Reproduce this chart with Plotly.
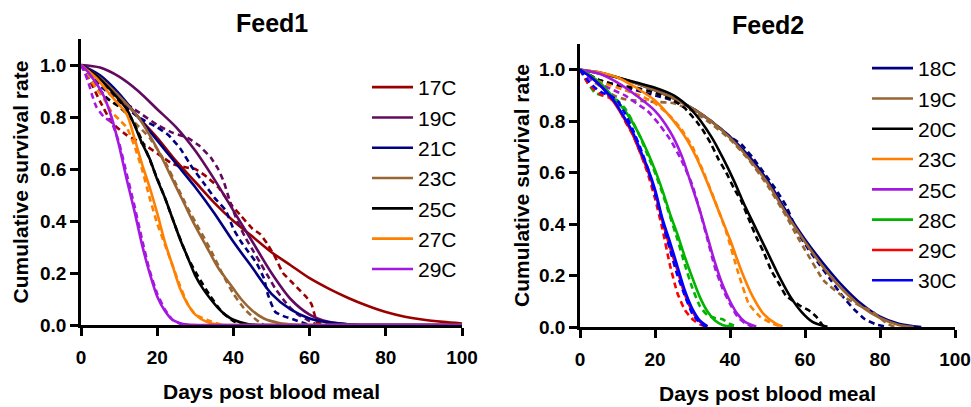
import plotly.graph_objects as go

# ---------------- Feed1 data ----------------
f1_labels = ["17C", "19C", "21C", "23C", "25C", "27C", "29C"]
f1_colors = ["#9B0000", "#620A5E", "#000080", "#996633", "#000000", "#FF8000", "#A418E0"]

# fitted (solid) curves
f1_17_fit_t = [0, 5, 10, 15, 20, 25, 30, 35, 40, 45, 50, 55, 60, 65, 70, 75, 80, 85, 90, 95, 100]
f1_17_fit_s = [1, 0.95, 0.88, 0.8, 0.72, 0.63, 0.55, 0.47, 0.4, 0.34, 0.28, 0.23, 0.18, 0.14, 0.105, 0.075, 0.05, 0.032, 0.02, 0.012, 0.006]
f1_19_fit_t = [0, 5, 10, 15, 20, 25, 30, 35, 40, 45, 50, 55, 60, 65, 70, 80, 100]
f1_19_fit_s = [1, 0.99, 0.955, 0.9, 0.83, 0.76, 0.67, 0.56, 0.44, 0.32, 0.2, 0.1, 0.04, 0.012, 0.003, 0.0005, 0]
f1_21_fit_t = [0, 5, 10, 15, 20, 25, 30, 35, 40, 45, 50, 55, 60, 65, 70, 80, 100]
f1_21_fit_s = [1, 0.96, 0.89, 0.8, 0.71, 0.62, 0.53, 0.43, 0.32, 0.22, 0.12, 0.06, 0.025, 0.01, 0.003, 0.0005, 0]
f1_23_fit_t = [0, 5, 10, 15, 18, 21, 24, 27, 30, 33, 36, 39, 42, 45, 48, 52, 56, 65, 100]
f1_23_fit_s = [1, 0.95, 0.88, 0.8, 0.73, 0.65, 0.56, 0.47, 0.38, 0.3, 0.22, 0.16, 0.1, 0.055, 0.025, 0.008, 0.002, 0, 0]
f1_25_fit_t = [0, 4, 8, 12, 14, 16, 18, 20, 22, 24, 26, 28, 30, 32, 34, 36, 38, 40, 44, 50, 100]
f1_25_fit_s = [1, 0.96, 0.9, 0.83, 0.77, 0.7, 0.64, 0.56, 0.49, 0.41, 0.33, 0.26, 0.19, 0.14, 0.1, 0.065, 0.038, 0.02, 0.003, 0, 0]
f1_27_fit_t = [0, 4, 8, 12, 14, 16, 18, 20, 22, 24, 26, 28, 30, 33, 36, 42, 100]
f1_27_fit_s = [1, 0.95, 0.88, 0.81, 0.72, 0.62, 0.53, 0.43, 0.32, 0.23, 0.14, 0.08, 0.04, 0.012, 0.002, 0, 0]
f1_29_fit_t = [0, 2, 4, 6, 8, 10, 12, 14, 16, 18, 20, 22, 24, 26, 28, 34, 100]
f1_29_fit_s = [1, 0.97, 0.93, 0.88, 0.8, 0.69, 0.56, 0.44, 0.31, 0.2, 0.11, 0.055, 0.02, 0.007, 0.002, 0, 0]

# observed (dashed) curves
f1_17_obs_t = [0, 2, 5, 8, 12, 16, 20, 24, 28, 30, 33, 36, 39, 42, 45, 47, 49, 51, 53, 55, 57, 59, 60.5, 61.5, 62, 66, 70]
f1_17_obs_s = [1, 0.95, 0.86, 0.78, 0.73, 0.7, 0.66, 0.62, 0.605, 0.6, 0.57, 0.53, 0.47, 0.42, 0.37, 0.35, 0.31, 0.26, 0.2, 0.17, 0.14, 0.11, 0.08, 0.03, 0.01, 0.004, 0]
f1_19_obs_t = [0, 5, 10, 15, 20, 24, 28, 31, 34, 36, 37.5, 39, 41, 43, 45, 47, 49, 51, 53, 55, 57, 60, 62]
f1_19_obs_s = [1, 0.93, 0.87, 0.82, 0.77, 0.74, 0.72, 0.69, 0.645, 0.6, 0.55, 0.48, 0.4, 0.34, 0.29, 0.24, 0.19, 0.14, 0.1, 0.065, 0.04, 0.015, 0]
f1_21_obs_t = [0, 5, 10, 15, 20, 23, 26, 29, 32, 35, 38, 40, 42, 44, 46, 48, 49, 50, 51, 53, 56, 60]
f1_21_obs_s = [1, 0.92, 0.86, 0.8, 0.76, 0.73, 0.68, 0.61, 0.55, 0.49, 0.44, 0.37, 0.32, 0.28, 0.24, 0.18, 0.12, 0.08, 0.05, 0.035, 0.02, 0]
f1_23_obs_t = [0, 3, 6, 10, 14, 18, 22, 25, 28, 31, 34, 37, 40, 43, 46, 48]
f1_23_obs_s = [1, 0.93, 0.88, 0.84, 0.78, 0.72, 0.63, 0.54, 0.45, 0.37, 0.29, 0.2, 0.12, 0.06, 0.02, 0]
f1_25_obs_t = [0, 2, 4, 7, 10, 13, 16, 19, 22, 25, 28, 31, 34, 37, 40, 43]
f1_25_obs_s = [1, 0.96, 0.92, 0.87, 0.84, 0.8, 0.71, 0.6, 0.49, 0.37, 0.26, 0.18, 0.11, 0.05, 0.015, 0]
f1_27_obs_t = [0, 2, 4, 6, 8, 10, 12, 14, 16, 18, 20, 22, 24, 26, 28, 30, 33, 37]
f1_27_obs_s = [1, 0.96, 0.91, 0.87, 0.82, 0.79, 0.76, 0.69, 0.6, 0.49, 0.39, 0.31, 0.23, 0.15, 0.08, 0.04, 0.02, 0]
f1_29_obs_t = [0, 1, 2, 3, 4, 6, 8, 10, 12, 14, 16, 18, 20, 22, 24, 26, 28]
f1_29_obs_s = [1, 0.97, 0.93, 0.88, 0.84, 0.8, 0.78, 0.7, 0.58, 0.46, 0.33, 0.21, 0.12, 0.06, 0.02, 0.005, 0]

# ---------------- Feed2 data ----------------
f2_labels = ["18C", "19C", "20C", "23C", "25C", "28C", "29C", "30C"]
f2_colors = ["#000080", "#996633", "#000000", "#FF8000", "#A418E0", "#00B400", "#FF0000", "#0000FF"]

f2_18_fit_t = [0, 10, 20, 30, 35, 40, 45, 50, 55, 60, 65, 70, 75, 80, 85, 91]
f2_18_fit_s = [1, 0.97, 0.92, 0.85, 0.8, 0.74, 0.665, 0.57, 0.45, 0.34, 0.245, 0.16, 0.09, 0.04, 0.013, 0]
f2_19_fit_t = [0, 10, 20, 30, 35, 40, 45, 50, 55, 60, 65, 70, 75, 80, 85, 89]
f2_19_fit_s = [1, 0.97, 0.92, 0.85, 0.8, 0.735, 0.655, 0.56, 0.44, 0.33, 0.23, 0.145, 0.08, 0.035, 0.008, 0]
f2_20_fit_t = [0, 5, 10, 15, 20, 25, 30, 35, 38, 41, 44, 47, 50, 53, 56, 59, 62, 66]
f2_20_fit_s = [1, 0.99, 0.97, 0.95, 0.93, 0.9, 0.84, 0.74, 0.66, 0.57, 0.47, 0.38, 0.29, 0.2, 0.12, 0.06, 0.02, 0.001]
f2_23_fit_t = [0, 5, 10, 15, 20, 25, 28, 31, 34, 37, 40, 43, 46, 49, 52, 54]
f2_23_fit_s = [1, 0.99, 0.97, 0.93, 0.88, 0.8, 0.74, 0.66, 0.56, 0.45, 0.34, 0.22, 0.12, 0.05, 0.015, 0.002]
f2_25_fit_t = [0, 5, 10, 15, 20, 24, 27, 30, 32, 34, 36, 38, 40, 42, 44, 47]
f2_25_fit_s = [1, 0.985, 0.95, 0.9, 0.84, 0.76, 0.67, 0.54, 0.45, 0.35, 0.25, 0.165, 0.1, 0.05, 0.02, 0.002]
f2_28_fit_t = [0, 3, 6, 9, 12, 15, 18, 20, 22, 24, 26, 28, 30, 32, 34, 36, 38, 41]
f2_28_fit_s = [1, 0.975, 0.94, 0.89, 0.84, 0.77, 0.68, 0.61, 0.53, 0.44, 0.36, 0.27, 0.19, 0.115, 0.06, 0.025, 0.008, 0.001]
f2_29_fit_t = [0, 3, 6, 9, 12, 14, 16, 18, 20, 22, 24, 26, 28, 30, 32, 34]
f2_29_fit_s = [1, 0.97, 0.93, 0.875, 0.805, 0.75, 0.68, 0.61, 0.525, 0.41, 0.31, 0.22, 0.125, 0.06, 0.02, 0.002]
f2_30_fit_t = [0, 3, 6, 9, 12, 14, 16, 18, 20, 22, 24, 26, 28, 30, 32, 34]
f2_30_fit_s = [1, 0.97, 0.93, 0.88, 0.81, 0.76, 0.69, 0.62, 0.535, 0.42, 0.33, 0.235, 0.14, 0.07, 0.025, 0.003]

f2_18_obs_t = [0, 5, 10, 15, 20, 25, 30, 35, 40, 43, 46, 49, 52, 55, 58, 61, 64, 67, 70, 73, 76, 79, 82]
f2_18_obs_s = [1, 0.96, 0.94, 0.92, 0.9, 0.88, 0.85, 0.8, 0.74, 0.71, 0.66, 0.6, 0.54, 0.47, 0.37, 0.3, 0.24, 0.18, 0.12, 0.07, 0.03, 0.01, 0]
f2_19_obs_t = [0, 3, 6, 9, 12, 15, 20, 25, 30, 35, 40, 45, 50, 55, 58, 60, 65, 70, 75, 78, 80, 82, 84]
f2_19_obs_s = [1, 0.96, 0.93, 0.9, 0.885, 0.88, 0.875, 0.87, 0.84, 0.79, 0.73, 0.65, 0.55, 0.43, 0.35, 0.3, 0.18, 0.12, 0.08, 0.06, 0.035, 0.012, 0]
f2_20_obs_t = [0, 5, 10, 15, 20, 25, 28, 31, 33, 35, 37, 39, 41, 43, 45, 47, 49, 51, 53, 55, 57, 59, 61, 63, 64, 65]
f2_20_obs_s = [1, 0.96, 0.94, 0.93, 0.91, 0.88, 0.85, 0.8, 0.76, 0.71, 0.65, 0.6, 0.54, 0.49, 0.42, 0.35, 0.29, 0.22, 0.17, 0.12, 0.1, 0.08, 0.065, 0.04, 0.02, 0]
f2_23_obs_t = [0, 4, 8, 12, 16, 20, 24, 27, 30, 33, 36, 39, 42, 45, 48, 51, 54]
f2_23_obs_s = [1, 0.96, 0.94, 0.92, 0.9, 0.87, 0.82, 0.77, 0.7, 0.6, 0.49, 0.37, 0.22, 0.09, 0.04, 0.015, 0]
f2_25_obs_t = [0, 3, 6, 9, 12, 15, 18, 21, 24, 27, 30, 32, 34, 36, 38, 40, 42, 44, 46]
f2_25_obs_s = [1, 0.96, 0.94, 0.92, 0.9, 0.87, 0.84, 0.79, 0.73, 0.65, 0.55, 0.45, 0.34, 0.23, 0.15, 0.09, 0.04, 0.015, 0]
f2_28_obs_t = [0, 2, 4, 6, 8, 10, 12, 14, 16, 18, 20, 22, 24, 26, 28, 30, 32, 34, 36, 38, 40, 42]
f2_28_obs_s = [1, 0.95, 0.91, 0.9, 0.9, 0.88, 0.85, 0.8, 0.74, 0.67, 0.6, 0.52, 0.43, 0.34, 0.24, 0.15, 0.08, 0.045, 0.035, 0.03, 0.012, 0]
f2_29_obs_t = [0, 2, 4, 6, 8, 10, 12, 14, 16, 18, 20, 22, 24, 26, 28, 30, 32, 34]
f2_29_obs_s = [1, 0.95, 0.92, 0.9, 0.89, 0.86, 0.8, 0.75, 0.68, 0.6, 0.5, 0.38, 0.24, 0.13, 0.065, 0.03, 0.01, 0]
f2_30_obs_t = [0, 2, 4, 6, 8, 10, 12, 14, 16, 18, 20, 22, 24, 26, 28, 30, 32, 34]
f2_30_obs_s = [1, 0.96, 0.93, 0.91, 0.9, 0.88, 0.83, 0.77, 0.7, 0.62, 0.52, 0.41, 0.3, 0.2, 0.12, 0.05, 0.015, 0]

x_ticks = [0, 20, 40, 60, 80, 100]
y_ticks = [0.0, 0.2, 0.4, 0.6, 0.8, 1.0]
panel_titles = ["Feed1", "Feed2"]
x_title = "Days post blood meal"
y_title = "Cumulative survival rate"

# ---------------- figure ----------------
FONT = "Liberation Sans, Arial, sans-serif"
# the figure is slightly wider than the 971 px window so that the right-most
# tick label is not treated as overflowing the graph div; the page hides overflow
W, H = 995, 407

f1_fits = [(f1_17_fit_t, f1_17_fit_s), (f1_19_fit_t, f1_19_fit_s), (f1_21_fit_t, f1_21_fit_s),
           (f1_23_fit_t, f1_23_fit_s), (f1_25_fit_t, f1_25_fit_s), (f1_27_fit_t, f1_27_fit_s),
           (f1_29_fit_t, f1_29_fit_s)]
f1_obs = [(f1_17_obs_t, f1_17_obs_s), (f1_19_obs_t, f1_19_obs_s), (f1_21_obs_t, f1_21_obs_s),
          (f1_23_obs_t, f1_23_obs_s), (f1_25_obs_t, f1_25_obs_s), (f1_27_obs_t, f1_27_obs_s),
          (f1_29_obs_t, f1_29_obs_s)]
f2_fits = [(f2_18_fit_t, f2_18_fit_s), (f2_19_fit_t, f2_19_fit_s), (f2_20_fit_t, f2_20_fit_s),
           (f2_23_fit_t, f2_23_fit_s), (f2_25_fit_t, f2_25_fit_s), (f2_28_fit_t, f2_28_fit_s),
           (f2_29_fit_t, f2_29_fit_s), (f2_30_fit_t, f2_30_fit_s)]
f2_obs = [(f2_18_obs_t, f2_18_obs_s), (f2_19_obs_t, f2_19_obs_s), (f2_20_obs_t, f2_20_obs_s),
          (f2_23_obs_t, f2_23_obs_s), (f2_25_obs_t, f2_25_obs_s), (f2_28_obs_t, f2_28_obs_s),
          (f2_29_obs_t, f2_29_obs_s), (f2_30_obs_t, f2_30_obs_s)]

fig = go.Figure()

def add_panel(labels, colors, fits, obs, xa, ya, legend):
    for lab, col, (ft, fs), (ot, os_) in zip(labels, colors, fits, obs):
        fig.add_trace(go.Scatter(x=ot, y=os_, mode="lines", xaxis=xa, yaxis=ya,
                                 line=dict(color=col, width=2.6, dash="6px,4px", shape="spline", smoothing=0.4),
                                 showlegend=False, hoverinfo="skip"))
        fig.add_trace(go.Scatter(x=ft, y=fs, mode="lines", xaxis=xa, yaxis=ya, name=lab,
                                 line=dict(color=col, width=2.6, shape="spline", smoothing=0.8),
                                 legend=legend))

add_panel(f1_labels, f1_colors, f1_fits, f1_obs, "x", "y", "legend")
add_panel(f2_labels, f2_colors, f2_fits, f2_obs, "x2", "y2", "legend2")

def px_x(p):
    return p / W

def px_y(p):
    return 1 - p / H

axis_common = dict(showline=True, linewidth=2.5, linecolor="black", showgrid=False, zeroline=False,
                   ticks="outside", ticklen=8, tickwidth=2.5, tickcolor="black", automargin=False,
                   ticklabeloverflow="allow",
                   tickfont=dict(family=FONT, size=19, color="black", weight="bold"),
                   title_font=dict(family=FONT, size=21, color="black", weight="bold"))

fig.update_layout(
    width=W, height=H, margin=dict(l=0, r=0, t=0, b=0),
    paper_bgcolor="white", plot_bgcolor="white",
    font=dict(family=FONT, color="black"),
    xaxis=dict(domain=[px_x(81), px_x(462)], range=[0, 100], tickvals=x_ticks, anchor="y",
               ticklabelstandoff=5, title=dict(text=x_title, standoff=18), **axis_common),
    yaxis=dict(domain=[px_y(325), px_y(39)], range=[0, 1.1], tickvals=y_ticks, tickformat=".1f", anchor="x",
               title=dict(text=y_title, standoff=6), **axis_common),
    xaxis2=dict(domain=[px_x(580), px_x(955)], range=[0, 100], tickvals=x_ticks, anchor="y2",
                ticklabelstandoff=5, title=dict(text=x_title, standoff=18), **axis_common),
    yaxis2=dict(domain=[px_y(327), px_y(44)], range=[0, 1.1], tickvals=y_ticks, tickformat=".1f", anchor="x2",
                title=dict(text=y_title, standoff=4), **axis_common),
    legend=dict(x=px_x(367), y=px_y(67), xanchor="left", yanchor="top", bgcolor="rgba(0,0,0,0)",
                font=dict(family=FONT, size=21, color="black"), tracegroupgap=0, itemwidth=41),
    legend2=dict(x=px_x(867), y=px_y(48), xanchor="left", yanchor="top", bgcolor="rgba(0,0,0,0)",
                 font=dict(family=FONT, size=21, color="black"), tracegroupgap=0, itemwidth=41),
    annotations=[
        dict(text="<b>%s</b>" % panel_titles[0], x=px_x(272), y=px_y(23), xref="paper", yref="paper",
             xanchor="center", yanchor="middle", showarrow=False,
             font=dict(family=FONT, size=25, color="black")),
        dict(text="<b>%s</b>" % panel_titles[1], x=px_x(768), y=px_y(25), xref="paper", yref="paper",
             xanchor="center", yanchor="middle", showarrow=False,
             font=dict(family=FONT, size=25, color="black")),
    ],
)

fig.write_html("out.html", config={"displayModeBar": False},
               post_script="document.body.style.margin='0';document.body.style.overflow='hidden';")
